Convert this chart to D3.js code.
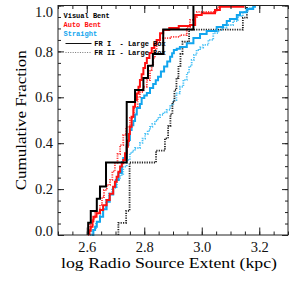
<!DOCTYPE html>
<html>
<head>
<meta charset="utf-8">
<script src="https://cdn.jsdelivr.net/npm/d3@7"></script>
<style>
  body { margin: 0; background: #fff; }
  svg { display: block; }
</style>
</head>
<body>
<svg width="294" height="294"></svg>
<script>
// cumulative fraction curves: jump position (log kpc) and fraction after the jump
const vbX1 = [2.605, 2.605, 2.614, 2.635, 2.646, 2.667, 2.739, 2.768, 2.797, 2.813, 2.830, 2.866, 2.971];
const vbF1 = [0, 0.053, 0.105, 0.158, 0.211, 0.316, 0.579, 0.632, 0.684, 0.737, 0.789, 0.895, 1.0];

const vbX2 = [2.710, 2.710, 2.737, 2.749, 2.841, 2.872, 2.883, 2.891, 2.898, 2.905, 2.912, 2.919, 2.926, 2.933, 2.956, 3.143, 3.157];
const vbF2 = [0, 0.053, 0.105, 0.316, 0.368, 0.421, 0.474, 0.526, 0.579, 0.632, 0.684, 0.737, 0.789, 0.842, 0.895, 0.947, 1.0];

const abX1 = [2.609, 2.609, 2.614, 2.620, 2.623, 2.634, 2.646, 2.657, 2.669, 2.680, 2.692, 2.698, 2.704, 2.710, 2.716, 2.722, 2.727, 2.733, 2.739, 2.743, 2.747, 2.750, 2.756, 2.762, 2.768, 2.774, 2.780, 2.785, 2.791, 2.797, 2.803, 2.809, 2.818, 2.826, 2.835, 2.843, 2.855, 2.866, 2.887, 2.920, 2.959, 2.977, 3.000, 3.046, 3.063, 3.145];
const abF1 = [0, 0.02, 0.036, 0.06, 0.08, 0.095, 0.109, 0.13, 0.153, 0.18, 0.21, 0.232, 0.254, 0.276, 0.298, 0.313, 0.327, 0.356, 0.385, 0.41, 0.44, 0.472, 0.515, 0.559, 0.588, 0.617, 0.646, 0.675, 0.70, 0.728, 0.75, 0.771, 0.793, 0.815, 0.833, 0.850, 0.879, 0.893, 0.902, 0.911, 0.915, 0.959, 0.966, 0.980, 0.995, 1.0];

const abX2 = [2.604, 2.611, 2.620, 2.629, 2.646, 2.653, 2.660, 2.670, 2.681, 2.689, 2.698, 2.707, 2.716, 2.727, 2.737, 2.750, 2.764, 2.777, 2.785, 2.797, 2.809, 2.820, 2.826, 2.831, 2.837, 2.843, 2.855, 2.890, 2.924, 2.948, 2.959, 2.977, 2.983, 3.053, 3.063];
const abF2 = [0, 0.044, 0.07, 0.10, 0.131, 0.165, 0.196, 0.218, 0.240, 0.277, 0.314, 0.353, 0.392, 0.436, 0.471, 0.510, 0.553, 0.601, 0.623, 0.646, 0.675, 0.719, 0.745, 0.771, 0.806, 0.841, 0.858, 0.863, 0.871, 0.906, 0.937, 0.950, 0.972, 0.993, 1.0];

const stX1 = [2.617, 2.623, 2.629, 2.635, 2.646, 2.657, 2.669, 2.680, 2.692, 2.701, 2.710, 2.722, 2.727, 2.739, 2.745, 2.750, 2.756, 2.762, 2.768, 2.774, 2.785, 2.791, 2.800, 2.809, 2.820, 2.831, 2.840, 2.848, 2.858, 2.869, 2.880, 2.890, 2.897, 2.903, 2.913, 2.924, 2.948, 2.971, 2.994, 3.017, 3.052, 3.074, 3.087, 3.098, 3.122, 3.133, 3.156, 3.179, 3.185];
const stF1 = [0, 0.022, 0.036, 0.058, 0.080, 0.112, 0.145, 0.177, 0.209, 0.240, 0.270, 0.318, 0.336, 0.392, 0.414, 0.458, 0.478, 0.497, 0.525, 0.553, 0.571, 0.597, 0.608, 0.619, 0.641, 0.658, 0.674, 0.690, 0.712, 0.734, 0.756, 0.777, 0.792, 0.806, 0.812, 0.819, 0.835, 0.858, 0.876, 0.889, 0.906, 0.915, 0.932, 0.941, 0.959, 0.971, 0.985, 0.995, 1.0];

const stX2 = [2.611, 2.618, 2.632, 2.646, 2.656, 2.667, 2.677, 2.688, 2.705, 2.716, 2.727, 2.739, 2.750, 2.759, 2.768, 2.785, 2.794, 2.803, 2.812, 2.820, 2.828, 2.837, 2.846, 2.855, 2.866, 2.878, 2.890, 2.901, 2.912, 2.924, 2.936, 2.948, 2.956, 2.965, 2.973, 2.982, 2.994, 3.005, 3.023, 3.040, 3.058, 3.072, 3.087, 3.109, 3.126, 3.143, 3.161, 3.175];
const stF2 = [0, 0.022, 0.057, 0.092, 0.122, 0.153, 0.18, 0.205, 0.240, 0.261, 0.298, 0.327, 0.357, 0.368, 0.379, 0.401, 0.42, 0.440, 0.455, 0.471, 0.484, 0.497, 0.51, 0.523, 0.534, 0.545, 0.566, 0.588, 0.617, 0.646, 0.676, 0.706, 0.735, 0.763, 0.785, 0.806, 0.817, 0.828, 0.850, 0.880, 0.893, 0.904, 0.915, 0.932, 0.954, 0.972, 0.989, 1.0];

const xTicks = [2.6, 2.8, 3.0, 3.2];
const yTicks = [0, 0.2, 0.4, 0.6, 0.8, 1.0];
const legendNames = ["Visual Bent", "Auto Bent", "Straight"];
const legendStyles = ["FR I  - Large Box", "FR II - Large Box"];

var svg = d3.select("svg");
var plotLeft = 58, plotRight = 288, plotTop = 5.5, plotBottom = 235;

var xScale = d3.scaleLinear().domain([2.5, 3.3]).range([plotLeft, plotRight]);
var yScale = d3.scaleLinear().domain([0, 1]).range([plotBottom, plotTop]);

var black = "#000000", red = "#ff1010", blue = "#12a5ee";

// drawing order: dotted first, solid on top
var curves = [
  {x: stX2, f: stF2, color: "#45c0f5", dotted: true},
  {x: abX2, f: abF2, color: "#ff3a3a", dotted: true},
  {x: vbX2, f: vbF2, color: "#222222", dotted: true},
  {x: stX1, f: stF1, color: blue, dotted: false},
  {x: abX1, f: abF1, color: red, dotted: false},
  {x: vbX1, f: vbF1, color: black, dotted: false}
];

var line = d3.line()
  .x(d => xScale(d[0]))
  .y(d => yScale(d[1]))
  .curve(d3.curveStepAfter);

svg.append("g").selectAll("path")
  .data(curves)
  .enter()
  .append("path")
  .attr("d", c => line(c.x.map((v, i) => [v, c.f[i]])))
  .style("fill", "none")
  .style("stroke", c => c.color)
  .style("stroke-width", c => c.dotted ? 1.8 : 2)
  .style("stroke-dasharray", c => c.dotted ? "1.2,1.2" : null);

// axes with inward ticks on all four sides
var minorX = d3.range(2.5, 3.3001, 0.05);
var minorY = d3.range(0, 1.0001, 0.05);

function styleAxis(g) {
  g.select(".domain").remove();
  g.selectAll("line").style("stroke", "#222");
  g.selectAll("text")
    .style("font-family", "Liberation Serif")
    .style("font-size", "14.5px")
    .style("fill", "#111");
}
function noLabels(g) {
  g.selectAll("text").remove();
}

svg.append("g").attr("transform", "translate(0," + plotBottom + ")")
  .call(d3.axisBottom(xScale).tickValues(minorX).tickSize(-3.5))
  .call(styleAxis).call(noLabels);
svg.append("g").attr("transform", "translate(0," + plotBottom + ")")
  .call(d3.axisBottom(xScale).tickValues(xTicks).tickSize(-7.5).tickPadding(7).tickFormat(d3.format(".1f")))
  .call(styleAxis);
svg.append("g").attr("transform", "translate(0," + plotTop + ")")
  .call(d3.axisTop(xScale).tickValues(minorX).tickSize(-3.5))
  .call(styleAxis).call(noLabels);
svg.append("g").attr("transform", "translate(0," + plotTop + ")")
  .call(d3.axisTop(xScale).tickValues(xTicks).tickSize(-7.5))
  .call(styleAxis).call(noLabels);

svg.append("g").attr("transform", "translate(" + plotLeft + ",0)")
  .call(d3.axisLeft(yScale).tickValues(minorY).tickSize(-3))
  .call(styleAxis).call(noLabels);
svg.append("g").attr("transform", "translate(" + plotLeft + ",0)")
  .call(d3.axisLeft(yScale).tickValues(yTicks).tickSize(-6).tickPadding(5).tickFormat(d3.format(".1f")))
  .call(styleAxis)
  .call(g => g.selectAll(".tick text").attr("y", d => d === 1 ? 6 : d === 0 ? -4 : 0));
svg.append("g").attr("transform", "translate(" + plotRight + ",0)")
  .call(d3.axisRight(yScale).tickValues(minorY).tickSize(-3))
  .call(styleAxis).call(noLabels);
svg.append("g").attr("transform", "translate(" + plotRight + ",0)")
  .call(d3.axisRight(yScale).tickValues(yTicks).tickSize(-6))
  .call(styleAxis).call(noLabels);

svg.append("rect")
  .attr("x", plotLeft).attr("y", plotTop)
  .attr("width", plotRight - plotLeft).attr("height", plotBottom - plotTop)
  .style("fill", "none")
  .style("stroke", "#222")
  .style("stroke-width", 1);

// axis titles
svg.append("text")
  .attr("x", (plotLeft + plotRight) / 2 - 4)
  .attr("y", 268)
  .attr("text-anchor", "middle")
  .attr("textLength", 216)
  .attr("lengthAdjust", "spacingAndGlyphs")
  .style("font-family", "Liberation Serif")
  .style("font-size", "14px")
  .text("log Radio Source Extent (kpc)");

svg.append("text")
  .attr("transform", "translate(26," + (plotTop + plotBottom) / 2 + ") rotate(-90)")
  .attr("text-anchor", "middle")
  .attr("textLength", 140)
  .attr("lengthAdjust", "spacingAndGlyphs")
  .style("font-family", "Liberation Serif")
  .style("font-size", "15px")
  .text("Cumulative Fraction");

// legend
var legendColors = [black, red, blue];
svg.append("g").selectAll("text")
  .data(legendNames)
  .enter()
  .append("text")
  .attr("x", 63.5)
  .attr("y", (d, i) => 17.5 + i * 9)
  .style("font-family", "Liberation Mono")
  .style("font-weight", "bold")
  .style("font-size", "7px")
  .style("fill", (d, i) => legendColors[i])
  .text(d => d);

legendStyles.forEach(function (label, i) {
  var ly = 43.5 + i * 9;
  svg.append("line")
    .attr("x1", 65.5).attr("x2", 91.5)
    .attr("y1", ly).attr("y2", ly)
    .style("stroke", i === 0 ? "#111" : "#777")
    .style("stroke-width", 1)
    .style("stroke-dasharray", i === 0 ? null : "1,1.4");
  svg.append("text")
    .attr("x", 94.3)
    .attr("y", ly + 2.5)
    .style("font-family", "Liberation Mono")
    .style("font-weight", "bold")
    .style("font-size", "7px")
    .style("white-space", "pre")
    .style("fill", "#000")
    .text(label);
});
</script>
</body>
</html>
